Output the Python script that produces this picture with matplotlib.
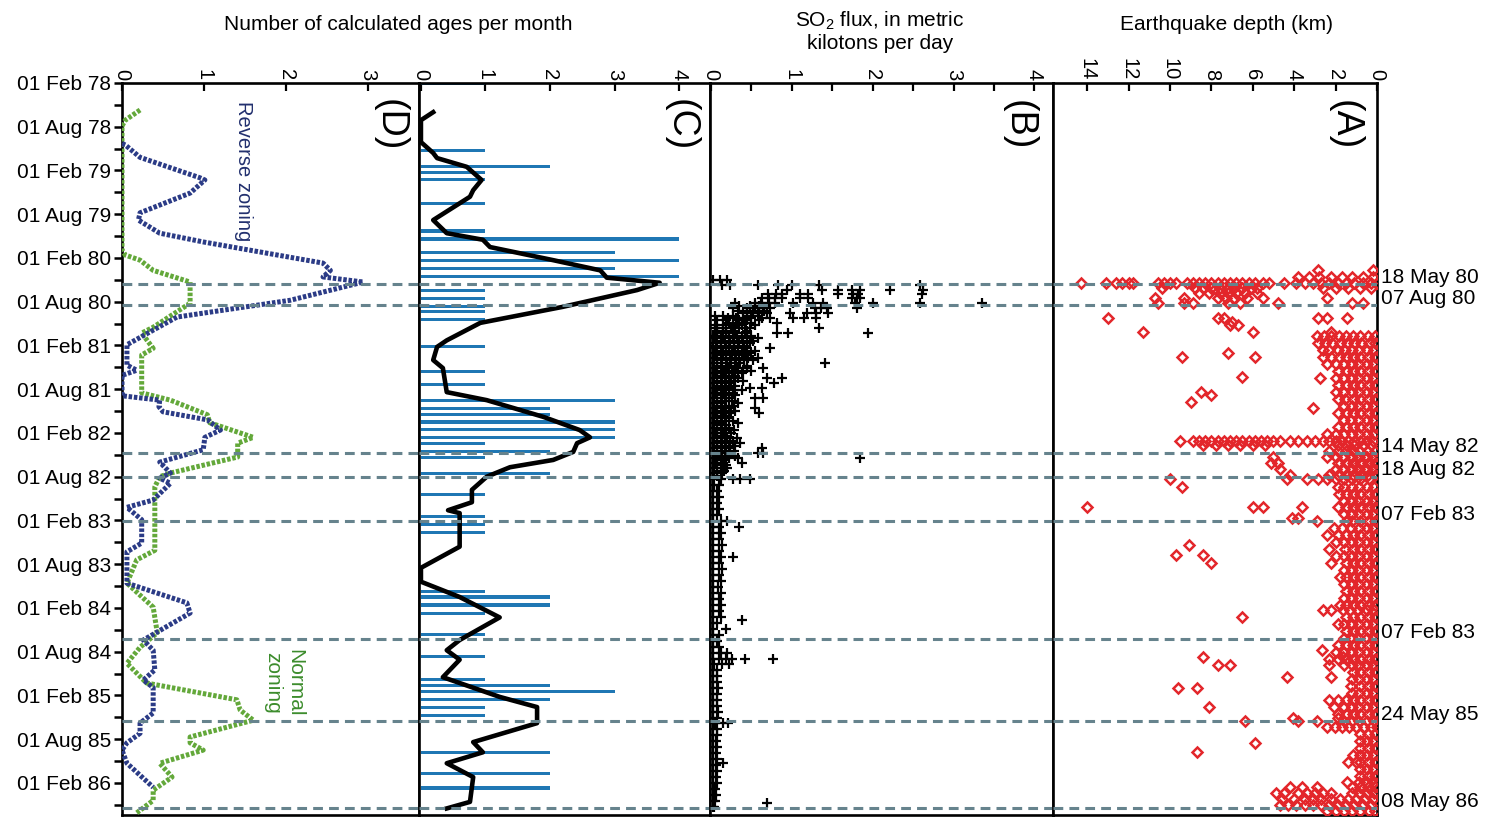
import matplotlib
matplotlib.use('Agg')
import matplotlib.pyplot as plt
import matplotlib.transforms as mtrans

plt.rcParams['font.family'] = ['Liberation Sans', 'DejaVu Sans']

# ---------------- data (y axis = months since 01 Feb 1978) ----------------
tick_months = list(range(0, 97, 6))
tick_labels = ['01 Feb 78', '01 Aug 78', '01 Feb 79', '01 Aug 79', '01 Feb 80',
               '01 Aug 80', '01 Feb 81', '01 Aug 81', '01 Feb 82', '01 Aug 82',
               '01 Feb 83', '01 Aug 83', '01 Feb 84', '01 Aug 84', '01 Feb 85',
               '01 Aug 85', '01 Feb 86']

event_months = [27.6, 30.45, 50.8, 54.0, 60.1, 76.3, 87.5, 99.5]
event_labels = ['18 May 80', '07 Aug 80', '14 May 82', '18 Aug 82', '07 Feb 83',
                '07 Feb 83', '24 May 85', '08 May 86']

# (D) zoning
reverse_month = [8.3, 8.5, 10.2, 13.0, 13.3, 15.1, 17.8, 18.8, 20.6, 21.8, 24.7, 25.7,
                 26.6, 27.3, 29.8, 32.1, 33.9, 35.9, 38.7, 39.4, 40.1, 42.9, 43.5, 44.4,
                 45.1, 46.2, 47.6, 48.6, 50.3, 52.0, 53.5, 54.2, 54.9, 57.2, 58.2, 59.9,
                 63.1, 64.3, 68.6, 71.3, 72.7, 76.4, 77.8, 80.5, 81.9, 82.9, 86.4, 87.8,
                 89.2, 90.5, 91.5, 93.3, 96.6]
reverse_value = [0.0, 0.04, 0.22, 0.95, 1.01, 0.83, 0.22, 0.2, 0.46, 0.99, 2.45, 2.54,
                 2.45, 2.94, 2.05, 0.67, 0.38, 0.06, 0.06, 0.18, 0.0, 0.0, 0.46, 0.45,
                 0.5, 1.04, 1.2, 1.01, 0.99, 0.46, 0.59, 0.46, 0.59, 0.38, 0.06, 0.24,
                 0.24, 0.06, 0.06, 0.79, 0.83, 0.26, 0.38, 0.4, 0.26, 0.38, 0.38, 0.22,
                 0.22, 0.06, 0.0, 0.06, 0.38]
normal_month = [3.7, 5.1, 5.9, 22.9, 23.6, 24.3, 25.7, 27.3, 30.2, 33.5, 34.3, 36.4,
                37.3, 42.5, 43.5, 45.5, 46.6, 48.6, 49.4, 51.3, 53.5, 54.0, 55.4, 64.1,
                65.4, 68.6, 71.9, 75.4, 77.4, 79.6, 82.3, 84.6, 86.0, 87.4, 89.7, 90.5,
                91.5, 93.3, 95.2, 97.0, 98.4, 100.1]
normal_value = [0.22, 0.04, 0.0, 0.0, 0.04, 0.22, 0.38, 0.83, 0.83, 0.38, 0.24, 0.38,
                0.24, 0.24, 0.59, 1.04, 1.07, 1.6, 1.41, 1.41, 0.59, 0.46, 0.4, 0.4,
                0.18, 0.06, 0.38, 0.43, 0.22, 0.06, 0.3, 1.4, 1.44, 1.6, 0.83, 0.83,
                0.99, 0.46, 0.61, 0.38, 0.38, 0.18]

# (C) calculated ages per month
ages_month = [0.1, 9.2, 11.4, 12.3, 13.2, 16.5, 20.3, 21.4, 23.3, 24.4, 25.4, 26.5,
              28.4, 29.5, 30.7, 31.4, 32.5, 36.2, 39.6, 41.4, 43.5, 44.6, 45.5, 46.5,
              47.5, 48.6, 49.5, 50.5, 51.4, 53.5, 56.4, 59.5, 60.6, 61.6, 69.7, 70.5,
              71.6, 72.7, 75.6, 78.7, 81.8, 82.7, 83.5, 84.6, 85.6, 86.7, 91.8, 94.7, 96.7]
ages_count = [1, 1, 2, 1, 1, 1, 1, 4, 3, 4, 3, 4,
              1, 1, 1, 1, 1, 1, 1, 1, 3, 2, 2, 3,
              3, 3, 1, 2, 1, 2, 1, 1, 1, 1, 1, 2,
              2, 1, 1, 1, 1, 2, 3, 2, 1, 1, 2, 2, 2]
ages_avg_month = [4.0, 5.1, 8.1, 9.6, 10.3, 11.5, 13.3, 14.7, 15.6, 18.8, 20.6, 21.5,
                  22.5, 24.3, 25.7, 26.7, 27.4, 28.4, 30.7, 32.9, 35.3, 36.2, 38.0, 39.1,
                  42.4, 43.5, 45.8, 47.6, 48.6, 49.4, 50.6, 51.7, 52.7, 54.0, 55.8, 57.5,
                  58.6, 59.0, 63.6, 66.5, 68.4, 70.5, 73.3, 76.4, 77.8, 79.1, 81.5, 84.2,
                  85.6, 87.8, 90.4, 91.8, 93.3, 95.2, 98.6, 99.5]
ages_avg = [0.19, 0.0, 0.0, 0.19, 0.25, 0.71, 0.94, 0.81, 0.76, 0.19, 0.4, 0.96,
            1.07, 2.05, 2.78, 2.88, 3.7, 3.35, 2.2, 0.92, 0.4, 0.25, 0.19, 0.34,
            0.4, 1.02, 1.9, 2.46, 2.62, 2.42, 2.36, 2.05, 1.38, 1.02, 0.79, 0.79,
            0.42, 0.6, 0.6, 0.0, 0.0, 0.6, 1.22, 0.6, 0.4, 0.6, 0.34, 1.22,
            1.8, 1.8, 0.81, 0.96, 0.4, 0.81, 0.76, 0.4]

# (B) SO2 flux, rows of (month, [flux values])
so2_eruption_rows = [
    (27.0, [0.02, 0.11, 0.2]),
    (27.7, [0.14, 0.24, 0.58, 0.83, 1.0, 1.33, 2.59]),
    (28.4, [0.94, 1.37, 1.57, 1.74, 1.84, 2.22, 2.62]),
    (28.9, [0.7, 0.8, 0.88, 1.1, 1.2, 1.57, 1.76, 1.82, 2.61]),
    (29.5, [0.63, 0.72, 0.79, 0.88, 1.1, 1.2, 1.74, 1.8, 1.84]),
    (30.2, [0.3, 0.54, 0.62, 0.7, 0.79, 1.01, 1.26, 1.39, 1.78, 2.0, 2.59, 3.35]),
    (30.55, [0.35, 0.48, 0.6]),
    (30.9, [0.27, 0.45, 0.55, 0.64, 0.73, 1.29, 1.36, 1.43, 1.81]),
    (31.25, [0.33, 0.45, 0.58, 0.66]),
    (31.6, [0.4, 0.52, 0.6, 0.69, 0.98, 1.19, 1.3, 1.45]),
    (31.9, [0.05, 0.15, 0.27, 0.45, 0.58]),
    (32.2, [0.21, 0.31, 0.4, 0.5, 0.63, 0.73, 1.01, 1.15, 1.3]),
    (32.55, [0.08, 0.18, 0.35, 0.45, 0.6]),
    (32.9, [0.22, 0.32, 0.42, 0.5, 0.82]),
    (33.25, [0.05, 0.15, 0.27, 0.38, 0.55]),
    (33.6, [0.05, 0.15, 0.25, 0.35, 0.48, 1.33]),
    (33.95, [0.07, 0.18, 0.3, 0.45]),
    (34.3, [0.08, 0.18, 0.3, 0.42, 0.82, 0.95, 1.94]),
    (34.65, [0.05, 0.15, 0.27, 0.38, 0.5]),
]
so2_band_rows = [
    (35.0, [0.02, 0.12, 0.22, 0.32, 0.45, 0.58]), (35.35, [0.07, 0.17, 0.28, 0.4, 0.52]),
    (35.7, [0.03, 0.13, 0.24, 0.35, 0.48]), (36.05, [0.06, 0.18, 0.29, 0.41]),
    (36.4, [0.02, 0.12, 0.22, 0.34, 0.45, 0.73]), (36.7, [0.07, 0.18, 0.3, 0.42, 0.55]),
    (37.0, [0.05, 0.15, 0.26, 0.38, 0.5]), (37.35, [0.08, 0.19, 0.31, 0.43]),
    (37.7, [0.02, 0.12, 0.23, 0.35, 0.46, 0.58]), (38.05, [0.07, 0.18, 0.3, 0.41, 0.52]),
    (38.4, [0.04, 0.14, 0.25, 0.36, 1.41]), (38.75, [0.08, 0.2, 0.31, 0.44]),
    (39.1, [0.02, 0.12, 0.22, 0.33, 0.45, 0.64]), (39.45, [0.07, 0.17, 0.28, 0.4, 0.5]),
    (39.8, [0.05, 0.15, 0.26, 0.38]), (40.15, [0.08, 0.19, 0.3]),
    (40.5, [0.02, 0.12, 0.22, 0.34, 0.69, 0.88]), (40.85, [0.07, 0.17, 0.29, 0.4]),
    (41.2, [0.04, 0.14, 0.25, 0.78]), (41.5, [0.08, 0.19, 0.3]),
    (41.8, [0.02, 0.12, 0.22, 0.48, 0.63]), (42.15, [0.07, 0.17, 0.28, 0.38]),
    (42.5, [0.05, 0.15, 0.27]), (42.85, [0.08, 0.18, 0.3]),
    (43.2, [0.02, 0.12, 0.22, 0.55, 0.64]), (43.55, [0.07, 0.17, 0.26]),
    (43.9, [0.04, 0.14, 0.33]), (44.25, [0.08, 0.18, 0.28]),
    (44.6, [0.02, 0.12, 0.22, 0.54]), (44.95, [0.07, 0.17, 0.3]),
    (45.3, [0.05, 0.15, 0.25, 0.6]), (45.65, [0.08, 0.18]),
    (46.0, [0.02, 0.12, 0.22]), (46.3, [0.07, 0.17, 0.27]),
    (46.6, [0.04, 0.14, 0.33]), (46.95, [0.08, 0.18]),
    (47.3, [0.02, 0.12, 0.22]), (47.65, [0.07, 0.17, 0.28]),
    (48.0, [0.05, 0.15, 0.25]), (48.35, [0.08, 0.18]),
    (48.7, [0.02, 0.12, 0.2, 0.32]), (49.05, [0.07, 0.17, 0.27]),
    (49.4, [0.04, 0.14, 0.24, 0.36]), (49.75, [0.08, 0.18, 0.3]),
    (50.1, [0.02, 0.12, 0.22, 0.63]), (50.45, [0.07, 0.17, 0.28]),
    (50.8, [0.04, 0.14, 0.24, 0.58, 0.64]), (51.1, [0.08, 0.18, 0.3]),
    (51.4, [0.02, 0.12, 0.22, 0.34, 1.84]), (51.75, [0.07, 0.17]),
    (52.1, [0.05, 0.15, 0.38]), (52.45, [0.08, 0.18]),
    (52.8, [0.02, 0.12, 0.2]), (53.15, [0.07, 0.16]),
    (53.5, [0.04, 0.14]), (53.9, [0.08]),
    (54.3, [0.02, 0.12, 0.27, 0.36, 0.48]), (55.1, [0.04, 0.1]),
    (56.0, [0.02, 0.08]), (56.8, [0.03, 0.1]), (57.6, [0.02, 0.07]),
    (58.4, [0.03, 0.1]), (59.3, [0.02, 0.08]), (60.1, [0.03, 0.12, 0.2]),
    (60.9, [0.02, 0.1, 0.35]), (61.7, [0.03, 0.12]), (62.6, [0.02, 0.1]),
    (63.4, [0.03, 0.14]), (64.2, [0.02, 0.1]), (65.0, [0.03, 0.12, 0.27]),
    (65.8, [0.02, 0.1]), (66.7, [0.03, 0.14]), (67.5, [0.02, 0.1]),
    (68.3, [0.03, 0.12]), (69.1, [0.02, 0.09]), (70.0, [0.03, 0.12]),
    (70.8, [0.02, 0.1]), (71.6, [0.03, 0.13]), (72.4, [0.02, 0.1]),
    (73.3, [0.03, 0.12]), (73.7, [0.38]), (74.1, [0.02, 0.08]),
    (74.9, [0.03, 0.18]), (75.7, [0.02, 0.1]), (76.5, [0.03, 0.08]),
    (77.4, [0.02, 0.1]), (78.2, [0.03, 0.12, 0.2]),
    (79.0, [0.02, 0.1, 0.18, 0.26, 0.42, 0.77]), (79.7, [0.04, 0.14, 0.22]),
    (80.5, [0.02, 0.08]), (81.3, [0.03, 0.08]), (82.2, [0.02, 0.07]),
    (83.0, [0.03, 0.09]), (83.8, [0.02, 0.07]), (84.6, [0.03, 0.08]),
    (85.5, [0.02, 0.07]), (86.3, [0.03, 0.09]), (87.1, [0.02, 0.08]),
    (87.8, [0.05, 0.15, 0.21]), (88.6, [0.02, 0.07]), (89.4, [0.03, 0.08]),
    (90.3, [0.02, 0.06]), (91.1, [0.03, 0.07]), (91.9, [0.02, 0.06]),
    (92.7, [0.03, 0.08]), (93.3, [0.15]), (93.6, [0.02, 0.06]),
    (94.4, [0.03, 0.07]), (95.2, [0.02, 0.06]), (96.0, [0.03, 0.07]),
    (96.8, [0.02, 0.05]), (97.7, [0.03, 0.06]), (98.5, [0.02, 0.05]),
    (98.8, [0.69]), (99.3, [0.02, 0.04]),
]

# (A) earthquake depths (km), rows of (month, [depths])
quake_1980_rows = [
    (25.7, [2.85, 0.2]),
    (26.6, [3.8, 3.3, 2.8, 2.2, 1.7, 1.2, 0.7, 0.2]),
    (27.4, [14.3, 13.1, 12.6, 12.3, 12.0, 11.8, 10.6, 10.3, 10.0, 9.7, 9.2, 8.9, 8.6,
            8.3, 8.0, 7.7, 7.4, 7.1, 6.8, 6.5, 6.2, 5.9, 5.5, 5.2, 4.5, 3.9, 3.5, 3.1,
            2.7, 2.3, 1.9, 1.5, 1.1, 0.7, 0.3, 0.0]),
    (28.1, [10.4, 8.8, 8.4, 8.0, 7.6, 7.2, 6.9, 6.5, 6.1, 5.8, 2.6, 2.0, 1.4, 0.8, 0.3]),
    (28.8, [8.6, 8.1, 7.6, 7.2, 6.8, 6.4, 5.8]),
    (29.5, [10.7, 9.3, 7.7, 7.3, 6.9, 6.3, 5.5, 2.4]),
    (30.2, [10.6, 9.3, 8.9, 7.2, 6.6, 4.8, 1.2, 0.7]),
]
quake_scatter_month = [32.2, 32.2, 32.2, 32.2, 32.2, 32.2, 32.8, 33.2, 33.2, 34.2, 34.2,
                       34.2, 37.0, 37.6, 37.6, 40.3, 42.4, 42.8, 43.8, 44.6]
quake_scatter_depth = [13.0, 7.7, 7.4, 2.85, 2.4, 1.45, 7.0, 7.1, 6.7, 11.3, 6.0,
                       2.2, 7.2, 9.4, 5.9, 6.5, 8.5, 8.0, 9.0, 3.1]
quake_shallow_rows = [
    (34.7, [0.1, 0.45, 0.8, 1.15, 1.5, 1.85, 2.2, 2.55, 2.9]),
    (35.7, [0.1, 0.4, 0.75, 1.1, 1.45, 1.8, 2.15, 2.5, 2.85]),
    (36.6, [0.15, 0.5, 0.85, 1.2, 1.55, 1.9, 2.3, 2.6]),
    (37.6, [0.1, 0.45, 0.8, 1.15, 1.5, 1.85, 2.2, 2.6]),
    (38.5, [0.15, 0.5, 0.85, 1.2, 1.6, 2.0, 2.4]),
    (39.5, [0.1, 0.45, 0.8, 1.15, 1.5, 1.9]),
    (40.5, [0.15, 0.5, 0.85, 1.2, 1.6, 2.0, 2.75]),
    (41.4, [0.1, 0.45, 0.8, 1.15, 1.5, 1.9]),
    (42.4, [0.15, 0.5, 0.85, 1.2, 1.6, 2.0]),
    (43.3, [0.1, 0.45, 0.8, 1.15, 1.55, 1.9]),
    (44.3, [0.15, 0.5, 0.85, 1.2, 1.6]),
    (45.3, [0.1, 0.45, 0.8, 1.15, 1.5, 1.9]),
    (46.2, [0.15, 0.5, 0.85, 1.25, 1.6]),
    (47.2, [0.1, 0.45, 0.8, 1.15, 1.5, 1.9]),
    (48.1, [0.15, 0.5, 0.85, 1.2, 1.6, 2.0, 2.4]),
    (49.1, [9.5, 8.9, 8.6, 8.3, 8.0, 7.7, 7.4, 7.1, 6.8, 6.5, 6.2, 5.9, 5.6, 5.3, 5.0,
            4.7, 4.2, 3.8, 3.4, 3.0, 2.6, 2.3, 2.0, 1.7, 1.4, 1.1, 0.8, 0.5, 0.2]),
    (49.7, [8.4, 7.8, 7.2, 6.6, 6.0, 5.4, 1.9, 1.5, 1.1, 0.7, 0.3]),
    (50.5, [0.1, 0.45, 0.8, 1.15, 1.5, 1.9, 2.3]),
    (51.3, [0.15, 0.5, 0.85, 1.2, 1.6, 2.0, 2.4, 5.0]),
    (52.1, [0.1, 0.45, 0.8, 1.15, 1.5, 1.9, 5.1, 4.8]),
    (52.9, [0.15, 0.5, 0.85, 1.2, 1.6, 2.0, 4.7]),
    (53.8, [0.1, 0.45, 0.8, 1.15, 1.5, 1.9, 2.3, 4.2]),
    (54.3, [10.0, 4.35, 3.4, 2.85, 2.4, 2.0, 1.6, 1.2, 0.8, 0.4]),
    (55.4, [9.4, 0.15, 0.5, 0.85, 1.2, 1.6, 1.9]),
    (56.4, [0.1, 0.45, 0.8, 1.15, 1.5, 1.85]),
    (57.3, [0.15, 0.5, 0.85, 1.2, 1.6]),
    (58.2, [14.0, 6.0, 5.5, 3.6, 0.1, 0.45, 0.8, 1.15, 1.5, 1.9]),
    (59.1, [0.15, 0.5, 0.85, 1.2, 1.6]),
    (59.7, [4.1, 3.8]),
    (60.1, [2.9, 0.1, 0.45, 0.8, 1.2, 1.5]),
    (61.0, [0.15, 0.5, 0.85, 1.25, 1.7, 2.1]),
    (62.0, [0.1, 0.45, 0.8, 1.15, 1.5, 1.9, 2.4]),
    (63.0, [0.15, 0.5, 0.85, 1.2, 1.6, 2.0]),
    (63.4, [9.1]),
    (63.9, [0.1, 0.45, 0.8, 1.15, 1.55, 2.3]),
    (64.7, [9.7, 8.4]),
    (64.9, [0.15, 0.5, 0.85, 1.2, 1.6, 2.0]),
    (65.8, [8.0, 0.1, 0.45, 0.8, 1.15, 1.5, 2.2]),
    (66.8, [0.15, 0.5, 0.85, 1.2, 1.6]),
    (67.8, [0.1, 0.45, 0.8, 1.15, 1.5, 1.8]),
    (68.7, [0.15, 0.5, 0.85, 1.2, 1.6]),
    (69.7, [0.1, 0.45, 0.8, 1.15, 1.5]),
    (70.6, [0.15, 0.5, 0.85, 1.2, 1.6]),
    (71.6, [0.1, 0.45, 0.8, 1.15, 1.5, 1.8]),
    (72.3, [2.6, 2.2, 1.65, 1.3, 0.9, 0.5, 0.15]),
    (73.3, [6.5, 0.1, 0.45, 0.8, 1.15, 1.5]),
    (74.2, [0.15, 0.5, 0.85, 1.2, 1.6, 1.9]),
    (75.2, [0.1, 0.45, 0.8, 1.15, 1.5]),
    (76.1, [0.15, 0.5, 0.85, 1.2, 1.6]),
    (77.1, [0.1, 0.45, 0.8, 1.15, 1.5, 1.9]),
    (77.8, [2.65]),
    (78.0, [0.15, 0.5, 0.85, 1.2, 1.6, 2.0]),
    (78.7, [8.4, 1.65]),
    (79.0, [0.1, 0.45, 0.8, 1.15, 1.5, 1.9, 2.3]),
    (79.8, [7.7, 7.1, 2.3, 0.15, 0.5, 0.85, 1.2, 1.6]),
    (80.8, [0.1, 0.45, 0.8, 1.15]),
    (81.5, [4.35, 2.2]),
    (81.7, [0.15, 0.5, 0.85, 1.2]),
    (82.7, [0.1, 0.45, 0.8, 1.25]),
    (83.0, [9.6, 8.7]),
    (83.6, [0.15, 0.5, 0.85, 1.2]),
    (84.6, [0.1, 0.45, 0.8, 1.15, 1.5, 1.9, 2.3]),
    (85.6, [8.1, 2.1, 0.15, 0.5, 0.85, 1.2, 1.6]),
    (86.5, [0.1, 0.45, 0.8, 1.15, 1.5, 1.9]),
    (87.1, [4.05, 1.9]),
    (87.5, [6.4, 3.8, 2.9, 0.15, 0.5, 0.85, 1.2, 1.6]),
    (88.3, [2.4, 2.05, 1.7, 1.35, 1.0, 0.65, 0.3, 0.0]),
    (89.3, [0.1, 0.45, 0.8]),
    (90.3, [0.15, 0.5, 0.8]),
    (90.5, [5.9]),
    (91.2, [0.1, 0.45, 0.8]),
    (91.8, [8.7]),
    (92.2, [1.15, 0.15, 0.5, 0.8]),
    (93.1, [1.4, 1.0, 0.1, 0.45, 0.8]),
    (94.1, [0.15, 0.5, 0.8]),
    (95.1, [0.1, 0.45, 0.8]),
    (95.9, [1.45, 0.15, 0.5, 0.85]),
    (96.6, [4.2, 3.6, 2.9, 0.1, 0.45, 0.8, 1.2]),
    (97.4, [4.9, 4.5, 3.8, 3.4, 3.0, 2.6, 2.2, 0.15, 0.5, 0.85, 1.2]),
    (98.2, [4.6, 4.0, 3.5, 3.1, 2.7, 2.2, 1.8, 1.4, 1.0, 0.6, 0.2]),
    (99.0, [4.7, 4.3, 3.9, 3.5, 3.1, 2.7, 2.3, 1.9, 1.5, 1.1, 0.7, 0.3]),
    (99.9, [2.4, 2.0, 1.6, 1.2, 0.8, 0.4, 0.1]),
]


def flatten(rows):
    xs, ys = [], []
    for m, vals in rows:
        for v in vals:
            xs.append(v)
            ys.append(m)
    return xs, ys


# ---------------- figure ----------------
W, H = 1490, 819
fig = plt.figure(figsize=(W / 100, H / 100), dpi=100)
TOP, BOT = 83, 815
FS = 15


def add_ax(x0, x1):
    return fig.add_axes([x0 / W, 1 - BOT / H, (x1 - x0) / W, (BOT - TOP) / H])


axD = add_ax(122, 419)
axC = add_ax(419, 710)
axB = add_ax(710, 1053)
axA = add_ax(1053, 1377)

YMAX = 100.4
DASH_COL = '#66838d'
for ax in (axD, axC, axB, axA):
    ax.set_ylim(YMAX, 0)
    ax.xaxis.set_ticks_position('top')
    ax.tick_params(axis='x', which='both', direction='in', length=6, width=1.6,
                   labelsize=14.5, labelrotation=-90, pad=2, top=True, bottom=False)
    ax.set_yticks([])
    for sp in ax.spines.values():
        sp.set_linewidth(1.9)
    for m in event_months:
        ax.axhline(m, color=DASH_COL, lw=2.2, ls=(0, (3.2, 2.0)), zorder=5)

# (D)
axD.set_xlim(0, 3.62)
axD.set_xticks([0, 1, 2, 3])
axD.set_yticks(tick_months)
axD.set_yticklabels(tick_labels)
axD.set_yticks(list(range(3, 100, 6)), minor=True)
axD.tick_params(axis='y', which='both', direction='out', length=6, width=1.8,
                labelsize=FS, pad=2)
axD.plot(normal_value, normal_month, color='#63a83a', lw=3.6,
         ls=(0, (0.7, 0.35)), zorder=3)
axD.plot(reverse_value, reverse_month, color='#2b3b86', lw=3.6,
         ls=(0, (0.7, 0.35)), zorder=3)
axD.text(0.41, 0.88, 'Reverse zoning', transform=axD.transAxes, rotation=-90,
         ha='center', va='center', fontsize=14.5, color='#22306e')
axD.text(0.545, 0.18, 'Normal\nzoning', transform=axD.transAxes, rotation=-90,
         ha='center', va='center', fontsize=15, color='#3c8c2c', linespacing=1.25)

# (C)
axC.set_xlim(-0.03, 4.48)
axC.set_xticks([0, 1, 2, 3, 4])
axC.barh(ages_month, ages_count, height=0.42, color='#1f77b4', zorder=2)
axC.plot(ages_avg, ages_avg_month, color='black', lw=3.3, zorder=4,
         solid_joinstyle='round')

# (B)
axB.set_xlim(-0.012, 4.23)
axB.set_xticks([0, 1, 2, 3, 4])
axB.set_xticks([0.5, 1.5, 2.5, 3.5], minor=True)
sx, sy = flatten(so2_eruption_rows + so2_band_rows)
axB.plot(sx, sy, ls='none', marker='+', color='black', ms=7.5, mew=1.6, zorder=3)

# (A)
axA.set_xlim(15.65, 0)
axA.set_xticks([14, 12, 10, 8, 6, 4, 2, 0])
qx, qy = flatten(quake_1980_rows + quake_shallow_rows)
qx = qx + quake_scatter_depth
qy = qy + quake_scatter_month
axA.plot(qx, qy, ls='none', marker='D', ms=5.3, mew=1.8, mfc='none',
         mec='#e3262b', zorder=3)
axA.set_xticklabels(['14', '12', '10', '8', '6', '4', '2', '0'])

# panel letters
for ax, lab in ((axD, '(D)'), (axC, '(C)'), (axB, '(B)'), (axA, '(A)')):
    ax.text(0.9, 0.943, lab, transform=ax.transAxes, rotation=-90,
            ha='center', va='center', fontsize=27)

# event labels on the right
tr = mtrans.blended_transform_factory(axA.transAxes, axA.transData)
for m, lab in zip(event_months, event_labels):
    axA.text(1.012, m - 0.95, lab, transform=tr, ha='left', va='center',
             fontsize=FS, clip_on=False)

# titles
fig.text(398 / W, 1 - 25 / H, 'Number of calculated ages per month',
         ha='center', va='center', fontsize=FS)
fig.text(880 / W, 1 - 31 / H, 'SO$_\\mathregular{2}$ flux, in metric\nkilotons per day',
         ha='center', va='center', fontsize=FS, linespacing=1.15)
fig.text(1227 / W, 1 - 25 / H, 'Earthquake depth (km)',
         ha='center', va='center', fontsize=FS)

fig.savefig('out.png', dpi=100)
